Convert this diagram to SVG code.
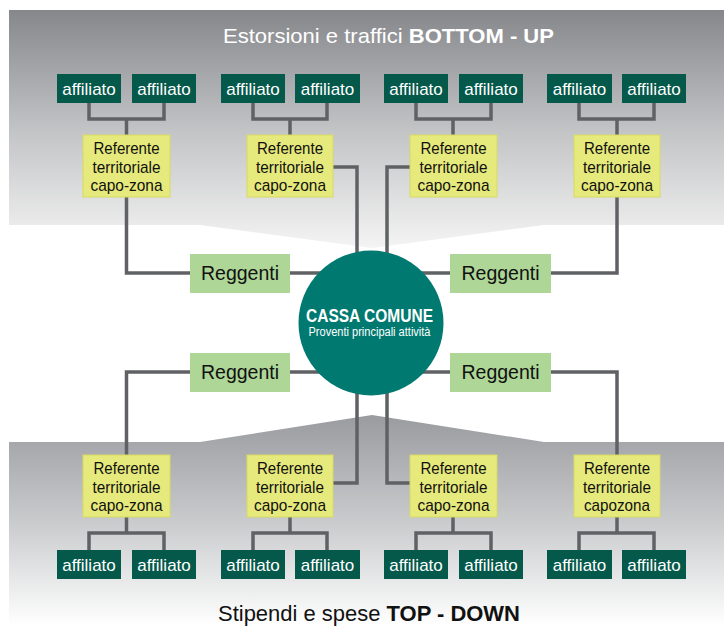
<svg xmlns="http://www.w3.org/2000/svg" width="724" height="626" viewBox="0 0 724 626">
<defs>
<linearGradient id="gTop" x1="0" y1="0" x2="0" y2="1">
<stop offset="0" stop-color="#86878b"/>
<stop offset="0.5" stop-color="#c2c3c5"/>
<stop offset="1" stop-color="#f4f4f4"/>
</linearGradient>
<linearGradient id="gBot" x1="0" y1="0" x2="0" y2="1">
<stop offset="0" stop-color="#9a9b9f"/>
<stop offset="0.5" stop-color="#c9cacc"/>
<stop offset="1" stop-color="#ffffff"/>
</linearGradient>
<style>
.aff rect{fill:#04594b;}
.aff text{fill:#ffffff;font-family:"Liberation Sans",Arial,sans-serif;font-size:17px;text-anchor:middle;}
.ref rect{fill:#e6e97b;stroke:#d7da62;stroke-width:1;}
.ref text{fill:#111111;font-family:"Liberation Sans",Arial,sans-serif;font-size:17px;text-anchor:middle;}
.reg rect{fill:#add697;}
.reg text{fill:#111111;font-family:"Liberation Sans",Arial,sans-serif;font-size:19.5px;text-anchor:middle;}
.conn{fill:none;stroke:#606164;stroke-width:3.5;}
</style>
</defs>
<rect x="0" y="0" width="724" height="626" fill="#ffffff"/>
<path d="M9 10 H724 V225 H544 L372 248 L200 225 H9 Z" fill="url(#gTop)"/>
<path d="M9 442 H200 L372 415 L544 442 H724 V626 H9 Z" fill="url(#gBot)"/>
<text x="388.5" y="43" fill="#ffffff" font-family="Liberation Sans,Arial,sans-serif" font-size="21" text-anchor="middle" textLength="331" lengthAdjust="spacingAndGlyphs">Estorsioni e traffici <tspan font-weight="bold">BOTTOM - UP</tspan></text>
<text x="369" y="621" fill="#111111" font-family="Liberation Sans,Arial,sans-serif" font-size="21.5" text-anchor="middle" textLength="302" lengthAdjust="spacingAndGlyphs">Stipendi e spese <tspan font-weight="bold">TOP - DOWN</tspan></text>
<g id="connectors" class="conn">
<path d="M89 103 V119 H164 V103 M126.5 119 V135"/>
<path d="M253 103 V119 H327 V103 M290 119 V135"/>
<path d="M416 103 V119 H491 V103 M453 119 V135"/>
<path d="M579 103 V119 H654 V103 M617 119 V135"/>
<path d="M89 550 V533 H164 V550 M126.5 533 V517"/>
<path d="M253 550 V533 H327 V550 M290 533 V517"/>
<path d="M416 550 V533 H491 V550 M453 533 V517"/>
<path d="M579 550 V533 H654 V550 M617 533 V517"/>
<path d="M126.5 197 V273 H190"/>
<path d="M617 197 V273 H551"/>
<path d="M126.5 455 V372 H190"/>
<path d="M617 455 V372 H551"/>
<path d="M333 167 H357 V483 H333"/>
<path d="M410 167 H387 V483 H410"/>
<path d="M290 273 H450 M290 372 H450"/>
</g>
<g id="cassa">
<circle cx="371" cy="323" r="72.5" fill="#007970"/>
<text x="369.5" y="322" fill="#ffffff" font-family="Liberation Sans,Arial,sans-serif" font-size="18" font-weight="bold" text-anchor="middle" textLength="127" lengthAdjust="spacingAndGlyphs">CASSA COMUNE</text>
<text x="369.5" y="336" fill="#ffffff" font-family="Liberation Sans,Arial,sans-serif" font-size="12.5" text-anchor="middle" textLength="122" lengthAdjust="spacingAndGlyphs">Proventi principali attività</text>
</g>
<g id="reg-tl" class="reg"><rect x="190" y="254" width="100" height="39"/><text x="240" y="280">Reggenti</text></g>
<g id="reg-tr" class="reg"><rect x="450" y="254" width="101" height="39"/><text x="500.5" y="280">Reggenti</text></g>
<g id="reg-bl" class="reg"><rect x="190" y="353" width="100" height="39"/><text x="240" y="379">Reggenti</text></g>
<g id="reg-br" class="reg"><rect x="450" y="353" width="101" height="39"/><text x="500.5" y="379">Reggenti</text></g>
<g id="ref-t1" class="ref"><rect x="83" y="135" width="87" height="62"/><text x="126.5" y="154" textLength="66" lengthAdjust="spacingAndGlyphs">Referente</text><text x="126.5" y="172.5" textLength="68" lengthAdjust="spacingAndGlyphs">territoriale</text><text x="126.5" y="191" textLength="72" lengthAdjust="spacingAndGlyphs">capo-zona</text></g>
<g id="ref-t2" class="ref"><rect x="247" y="135" width="86" height="62"/><text x="290" y="154" textLength="66" lengthAdjust="spacingAndGlyphs">Referente</text><text x="290" y="172.5" textLength="68" lengthAdjust="spacingAndGlyphs">territoriale</text><text x="290" y="191" textLength="72" lengthAdjust="spacingAndGlyphs">capo-zona</text></g>
<g id="ref-t3" class="ref"><rect x="410" y="135" width="87" height="62"/><text x="453.5" y="154" textLength="66" lengthAdjust="spacingAndGlyphs">Referente</text><text x="453.5" y="172.5" textLength="68" lengthAdjust="spacingAndGlyphs">territoriale</text><text x="453.5" y="191" textLength="72" lengthAdjust="spacingAndGlyphs">capo-zona</text></g>
<g id="ref-t4" class="ref"><rect x="574" y="135" width="86" height="62"/><text x="617" y="154" textLength="66" lengthAdjust="spacingAndGlyphs">Referente</text><text x="617" y="172.5" textLength="68" lengthAdjust="spacingAndGlyphs">territoriale</text><text x="617" y="191" textLength="72" lengthAdjust="spacingAndGlyphs">capo-zona</text></g>
<g id="ref-b1" class="ref"><rect x="83" y="455" width="87" height="62"/><text x="126.5" y="474" textLength="66" lengthAdjust="spacingAndGlyphs">Referente</text><text x="126.5" y="492.5" textLength="68" lengthAdjust="spacingAndGlyphs">territoriale</text><text x="126.5" y="511" textLength="72" lengthAdjust="spacingAndGlyphs">capo-zona</text></g>
<g id="ref-b2" class="ref"><rect x="247" y="455" width="86" height="62"/><text x="290" y="474" textLength="66" lengthAdjust="spacingAndGlyphs">Referente</text><text x="290" y="492.5" textLength="68" lengthAdjust="spacingAndGlyphs">territoriale</text><text x="290" y="511" textLength="72" lengthAdjust="spacingAndGlyphs">capo-zona</text></g>
<g id="ref-b3" class="ref"><rect x="410" y="455" width="87" height="62"/><text x="453.5" y="474" textLength="66" lengthAdjust="spacingAndGlyphs">Referente</text><text x="453.5" y="492.5" textLength="68" lengthAdjust="spacingAndGlyphs">territoriale</text><text x="453.5" y="511" textLength="72" lengthAdjust="spacingAndGlyphs">capo-zona</text></g>
<g id="ref-b4" class="ref"><rect x="574" y="455" width="86" height="62"/><text x="617" y="474" textLength="66" lengthAdjust="spacingAndGlyphs">Referente</text><text x="617" y="492.5" textLength="68" lengthAdjust="spacingAndGlyphs">territoriale</text><text x="617" y="511" textLength="66" lengthAdjust="spacingAndGlyphs">capozona</text></g>
<g id="aff-t1" class="aff"><rect x="57" y="74" width="64" height="29"/><text x="89" y="94.5">affiliato</text></g>
<g id="aff-t2" class="aff"><rect x="132" y="74" width="64" height="29"/><text x="164" y="94.5">affiliato</text></g>
<g id="aff-t3" class="aff"><rect x="221" y="74" width="64" height="29"/><text x="253" y="94.5">affiliato</text></g>
<g id="aff-t4" class="aff"><rect x="295" y="74" width="65" height="29"/><text x="327.5" y="94.5">affiliato</text></g>
<g id="aff-t5" class="aff"><rect x="384" y="74" width="64" height="29"/><text x="416" y="94.5">affiliato</text></g>
<g id="aff-t6" class="aff"><rect x="459" y="74" width="64" height="29"/><text x="491" y="94.5">affiliato</text></g>
<g id="aff-t7" class="aff"><rect x="547" y="74" width="65" height="29"/><text x="579.5" y="94.5">affiliato</text></g>
<g id="aff-t8" class="aff"><rect x="622" y="74" width="64" height="29"/><text x="654" y="94.5">affiliato</text></g>
<g id="aff-b1" class="aff"><rect x="57" y="550" width="64" height="29"/><text x="89" y="570.5">affiliato</text></g>
<g id="aff-b2" class="aff"><rect x="132" y="550" width="64" height="29"/><text x="164" y="570.5">affiliato</text></g>
<g id="aff-b3" class="aff"><rect x="221" y="550" width="64" height="29"/><text x="253" y="570.5">affiliato</text></g>
<g id="aff-b4" class="aff"><rect x="295" y="550" width="65" height="29"/><text x="327.5" y="570.5">affiliato</text></g>
<g id="aff-b5" class="aff"><rect x="384" y="550" width="64" height="29"/><text x="416" y="570.5">affiliato</text></g>
<g id="aff-b6" class="aff"><rect x="459" y="550" width="64" height="29"/><text x="491" y="570.5">affiliato</text></g>
<g id="aff-b7" class="aff"><rect x="547" y="550" width="65" height="29"/><text x="579.5" y="570.5">affiliato</text></g>
<g id="aff-b8" class="aff"><rect x="622" y="550" width="64" height="29"/><text x="654" y="570.5">affiliato</text></g>
</svg>
